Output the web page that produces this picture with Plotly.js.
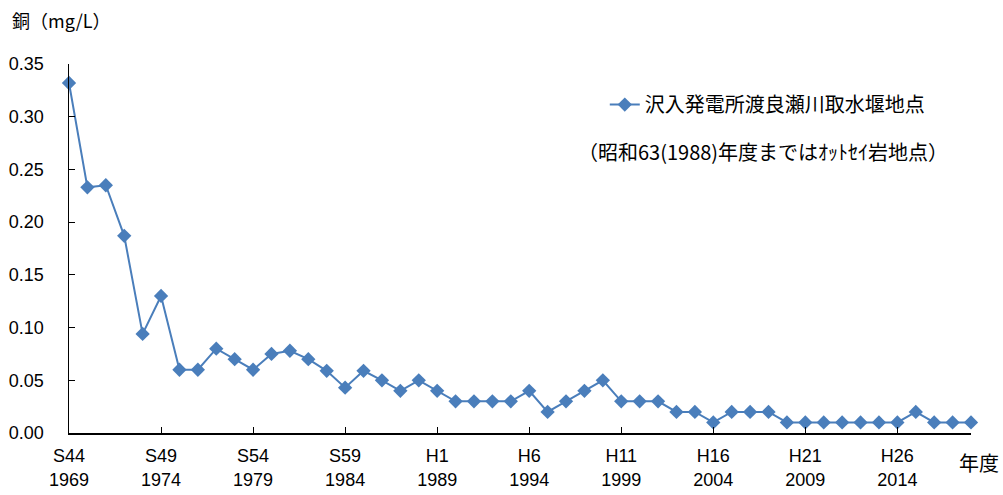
<!DOCTYPE html>
<html>
<head>
<meta charset="utf-8">
<script src="https://cdn.plot.ly/plotly-3.0.1.min.js"></script>
<style>html,body{margin:0;padding:0;background:#fff;}#chart{width:1003px;height:495px;}</style>
</head>
<body>
<div id="chart"></div>
<script>
const years = [1969,1970,1971,1972,1973,1974,1975,1976,1977,1978,1979,1980,1981,1982,1983,1984,1985,1986,1987,1988,1989,1990,1991,1992,1993,1994,1995,1996,1997,1998,1999,2000,2001,2002,2003,2004,2005,2006,2007,2008,2009,2010,2011,2012,2013,2014,2015,2016,2017,2018];
const copper = [0.332,0.233,0.235,0.187,0.094,0.130,0.060,0.060,0.080,0.070,0.060,0.075,0.078,0.070,0.059,0.043,0.059,0.050,0.040,0.050,0.040,0.030,0.030,0.030,0.030,0.040,0.020,0.030,0.040,0.050,0.030,0.030,0.030,0.020,0.020,0.010,0.020,0.020,0.020,0.010,0.010,0.010,0.010,0.010,0.010,0.010,0.020,0.010,0.010,0.010];
const tickYears = [1969,1974,1979,1984,1989,1994,1999,2004,2009,2014];
const tickLabels = ["S44<br>1969","S49<br>1974","S54<br>1979","S59<br>1984","H1<br>1989","H6<br>1994","H11<br>1999","H16<br>2004","H21<br>2009","H26<br>2014"];
const yTicks = [0,0.05,0.10,0.15,0.20,0.25,0.30,0.35];
const seriesName = "沢入発電所渡良瀬川取水堰地点";
const noteText = "（昭和63(1988)年度まではｵｯﾄｾｲ岩地点）";
const yTitle = "銅（mg/L）";
const xTitle = "年度";

const FONT = "Liberation Sans, Arial, Noto Sans CJK JP, sans-serif";
const JP = "Noto Sans CJK JP, sans-serif";
const COLOR = "#4a7ebb";

Plotly.newPlot('chart', [{
  x: years, y: copper, type: 'scatter', mode: 'lines+markers', name: seriesName,
  line: {color: COLOR, width: 2},
  marker: {symbol: 'diamond', size: 11, color: COLOR},
  cliponaxis: false
}], {
  width: 1003, height: 495,
  margin: {l: 69, r: 32, t: 64, b: 62},
  paper_bgcolor: '#fff', plot_bgcolor: '#fff',
  font: {family: FONT, size: 18, color: '#000'},
  showlegend: true,
  legend: {x: 0.594, y: 0.89, xanchor: 'left', yanchor: 'middle', font: {size: 20, family: JP}, bgcolor: 'rgba(0,0,0,0)'},
  xaxis: {
    range: [1969, 2018], tickmode: 'array', tickvals: tickYears, ticktext: tickLabels,
    showline: true, linecolor: '#000', linewidth: 1.5, ticks: 'inside', ticklen: 6, tickcolor: '#000',
    showgrid: false, zeroline: false, tickfont: {size: 18}, ticklabelstandoff: 6
  },
  yaxis: {
    range: [0, 0.35], tickmode: 'array', tickvals: yTicks, tickformat: '.2f',
    showline: true, linecolor: '#000', linewidth: 1.5, ticks: 'inside', ticklen: 6, tickcolor: '#000',
    showgrid: false, zeroline: false, tickfont: {size: 18}, ticklabelstandoff: 20
  },
  annotations: [
    {xref: 'paper', yref: 'paper', x: -0.065, y: 1.12, xanchor: 'left', yanchor: 'middle', text: yTitle, showarrow: false, font: {size: 18, family: JP}},
    {xref: 'paper', yref: 'paper', x: 1.033, y: -0.08, xanchor: 'right', yanchor: 'middle', text: xTitle, showarrow: false, font: {size: 20, family: JP}},
    {xref: 'paper', yref: 'paper', x: 0.562, y: 0.762, xanchor: 'left', yanchor: 'middle', text: noteText, showarrow: false, font: {size: 20, family: JP}}
  ]
}, {displayModeBar: false, staticPlot: true});
</script>
</body>
</html>
